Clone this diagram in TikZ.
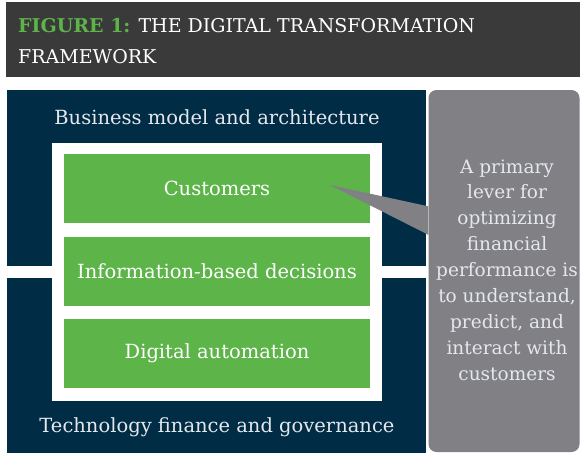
\documentclass[tikz,border=0pt]{standalone}
\usepackage{fontspec}
\setmainfont{DejaVu Serif}
\usetikzlibrary{calc}

\definecolor{barGrey}{RGB}{58,58,58}
\definecolor{frameNavy}{RGB}{0,44,69}
\definecolor{leafGreen}{RGB}{93,181,74}
\definecolor{noteGrey}{RGB}{128,128,133}
\definecolor{paleText}{RGB}{228,232,236}

\def\boxHeight{69}

\tikzset{
    layerbox/.style = {fill = leafGreen, minimum width = 306pt, minimum height = \boxHeight pt,
        inner sep = 0pt, text = white, font = \fontsize{19.5}{22}\selectfont},
    layerlabel/.style = {text = paleText, font = \fontsize{19.5}{22}\selectfont},
}

\begin{document}
\begin{tikzpicture}[x = 1pt, y = -1pt]
            \useasboundingbox (0,0) rectangle (580,455);
            \fill [barGrey] (6,2) rectangle (580,77);
            \node [anchor = base west, align = left, text = white, inner sep = 0pt,
                font = \fontsize{19}{31}\selectfont] (title) at (18,63)
                {\textcolor{leafGreen}{\bfseries FIGURE 1:} THE DIGITAL TRANSFORMATION\\FRAMEWORK};
            \fill [frameNavy] (7,90) rectangle (426,266);
            \fill [frameNavy] (7,278) rectangle (426,453);
            \fill [white] (52,143) rectangle (382,401);
            \node [layerlabel] (business) at (217,117) {Business model and architecture};
            \node [layerlabel] (technology) at (217,427) {Technology finance and governance};
            \foreach \name/\top/\txt in {cust/154/Customers, info/237/Information-based decisions, auto/319/Digital automation} {
                \node [layerbox] (\name) at (217,\top+34.5) {\txt};
            }
            \node [fill = noteGrey, rounded corners = 8pt, minimum width = 151pt, minimum height = 362pt,
                inner sep = 0pt] (note) at (504,271) {};
            \coordinate (tip) at ($(cust.center)+(113,-3.5)$);
            \fill [noteGrey] (tip) -- ($(note.north west)+(0,116.5)$) -- ($(note.north west)+(0,145)$) -- cycle;
            \node [align = center, text = paleText, font = \fontsize{18.5}{25.9}\selectfont] (lever) at (507,270)
                {A primary\\lever for\\optimizing\\financial\\performance is\\to understand,\\predict, and\\interact with\\customers};
        \end{tikzpicture}
\end{document}
